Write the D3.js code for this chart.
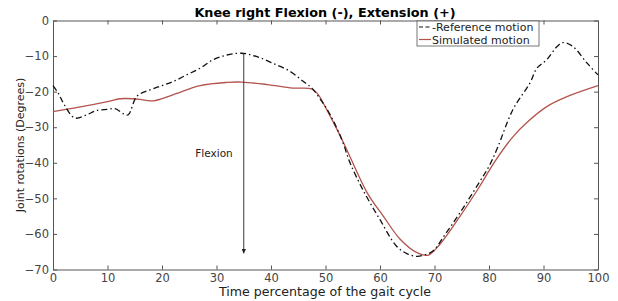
<!DOCTYPE html>
<html lang="en">
<head>
<meta charset="utf-8">
<title>Knee right Flexion</title>
<script src="https://d3js.org/d3.v7.min.js"></script>
<style>
  body { margin: 0; background: #fff; }
  svg { font-family: "DejaVu Sans", sans-serif; }
</style>
</head>
<body>
<svg id="g1"></svg>
<script>
    // values
    const refTime = [0, 1, 2, 4, 6.2, 8, 10, 11.4, 13, 13.8, 15.4, 17.8, 20, 22, 24.5, 27, 29.4, 31.9, 34.6,
        37.3, 40.3, 43.5, 45.9, 47.5, 49, 50.5, 52, 53.2, 54.5, 57, 60, 63, 65, 66.7, 68, 69.7, 72, 74.7,
        78.3, 80, 81.5, 84.4, 87.5, 88.8, 90.6, 92.5, 93.6, 95.4, 98, 100];
    const refAngle = [-18.3, -20.5, -23.5, -27.4, -26.5, -25.3, -25, -24.8, -26.3, -26.5, -21.3, -19.5, -18.3,
        -17.2, -15.3, -13.4, -11, -9.7, -9.2, -10.1, -12, -14.3, -17.1, -19, -22, -25.5, -30, -34.3, -40,
        -48, -56, -63.4, -65.6, -66.3, -66, -64.8, -60, -54, -45.3, -41, -36, -25, -17.6, -13.4, -11, -7.3,
        -6.2, -7.3, -12, -15.3];

    const simTime = [0, 5, 10, 12.3, 14.7, 16.5, 18.4, 22, 27, 32, 34.6, 39.3, 44, 47.4, 48.5, 50.2, 53.2,
        57.6, 60.6, 63.7, 66.7, 68.8, 71, 74.7, 78.3, 81, 84.5, 87, 90.6, 94.3, 100];
    const simAngle = [-25.6, -24.3, -22.8, -22, -22, -22.3, -22.6, -20.9, -18.3, -17.4, -17.3, -18, -19, -19.2,
        -20.5, -25, -34, -48.3, -55, -61.5, -65.2, -66, -62.9, -55, -46.6, -39.8, -32.5, -28.6, -24.2, -21.4, -18.3];

    const xTicks = [0, 10, 20, 30, 40, 50, 60, 70, 80, 90, 100];
    const yTicks = [0, -10, -20, -30, -40, -50, -60, -70];
    const seriesNames = ["Reference motion", "Simulated motion"];

    let margin = {top: 20.5, right: 20, bottom: 31.5, left: 53},
        width = 618,
        height = 301,
        chartWidth = width - margin.left - margin.right,
        chartHeight = height - margin.top - margin.bottom;

    let svg = d3.select("#g1")
        .attr("width", width)
        .attr("height", height);

    let x = d3.scaleLinear().domain([0, 100]).range([0, chartWidth]);
    let y = d3.scaleLinear().domain([-70, 0]).range([chartHeight, 0]);

    let chartArea = svg.append("g")
        .attr("transform", `translate(${margin.left},${margin.top})`);

    const axisColor = "#555";

    function styleAxis(g, showLabels) {
        g.select(".domain").attr("stroke", axisColor);
        g.selectAll(".tick line").attr("stroke", axisColor);
        g.selectAll(".tick text").attr("fill", "#444").attr("font-size", 11.5)
            .attr("font-family", "DejaVu Sans, sans-serif");
        if (!showLabels) g.selectAll(".tick text").remove();
    }

    chartArea.append("g")
        .attr("transform", `translate(0,${chartHeight})`)
        .call(d3.axisBottom(x).tickValues(xTicks).tickSize(-4).tickPadding(4).tickSizeOuter(0))
        .call(g => styleAxis(g, true));
    chartArea.append("g")
        .call(d3.axisTop(x).tickValues(xTicks).tickSize(-4).tickSizeOuter(0))
        .call(g => styleAxis(g, false));
    chartArea.append("g")
        .call(d3.axisLeft(y).tickValues(yTicks).tickSize(-4).tickPadding(4).tickSizeOuter(0))
        .call(g => styleAxis(g, true));
    chartArea.append("g")
        .attr("transform", `translate(${chartWidth},0)`)
        .call(d3.axisRight(y).tickValues(yTicks).tickSize(-4).tickSizeOuter(0))
        .call(g => styleAxis(g, false));

    let line = d3.line()
        .x(d => x(d[0]))
        .y(d => y(d[1]))
        .curve(d3.curveCatmullRom);

    const simColor = "#b3534d";

    chartArea.append("path")
        .datum(simTime.map((t, i) => [t, simAngle[i]]))
        .attr("fill", "none")
        .attr("stroke", simColor)
        .attr("stroke-width", 1.3)
        .attr("d", line);

    chartArea.append("path")
        .datum(refTime.map((t, i) => [t, refAngle[i]]))
        .attr("fill", "none")
        .attr("stroke", "#111")
        .attr("stroke-width", 1.3)
        .attr("stroke-dasharray", "6,3,1.5,3")
        .attr("d", line);

    // Flexion arrow
    svg.append("defs").append("marker")
        .attr("id", "arrow")
        .attr("viewBox", "0 0 6 6")
        .attr("refX", 6).attr("refY", 3)
        .attr("markerWidth", 5).attr("markerHeight", 5)
        .attr("orient", "auto")
        .append("path").attr("d", "M0,0L6,3L0,6Z").attr("fill", "#222");

    chartArea.append("line")
        .attr("x1", x(35)).attr("x2", x(35))
        .attr("y1", y(-9.2)).attr("y2", y(-65.5))
        .attr("stroke", "#222").attr("stroke-width", 0.9)
        .attr("marker-end", "url(#arrow)");

    chartArea.append("text")
        .attr("x", x(35) - 11).attr("y", y(-38.3))
        .attr("text-anchor", "end")
        .attr("font-size", 10.5).attr("fill", "#222")
        .text("Flexion");

    // title and axis labels
    svg.append("text")
        .attr("x", 325).attr("y", 17)
        .attr("text-anchor", "middle")
        .attr("font-size", 12.8).attr("font-weight", "bold")
        .text("Knee right Flexion (-), Extension (+)");

    svg.append("text")
        .attr("x", 325).attr("y", 296)
        .attr("text-anchor", "middle")
        .attr("font-size", 12.6).attr("fill", "#222")
        .text("Time percentage of the gait cycle");

    svg.append("text")
        .attr("transform", `translate(24,${margin.top + chartHeight / 2}) rotate(-90)`)
        .attr("text-anchor", "middle")
        .attr("font-size", 11).attr("fill", "#222")
        .text("Joint rotations (Degrees)");

    // legend
    let legend = svg.append("g").attr("transform", "translate(417,21)");
    legend.append("rect")
        .attr("width", 122).attr("height", 25)
        .attr("fill", "#fff").attr("stroke", "#555").attr("stroke-width", 0.8);
    seriesNames.forEach((name, i) => {
        let ly = 6 + i * 12.5;
        legend.append("line")
            .attr("x1", 2).attr("x2", 14).attr("y1", ly).attr("y2", ly)
            .attr("stroke", i === 0 ? "#111" : simColor)
            .attr("stroke-width", 1.2)
            .attr("stroke-dasharray", i === 0 ? "4,2.5" : null);
        legend.append("text")
            .attr("x", 15).attr("y", ly + 4)
            .attr("font-size", 11).attr("fill", "#222")
            .text((i === 0 ? "-" : "") + name);
    });
</script>
</body>
</html>
